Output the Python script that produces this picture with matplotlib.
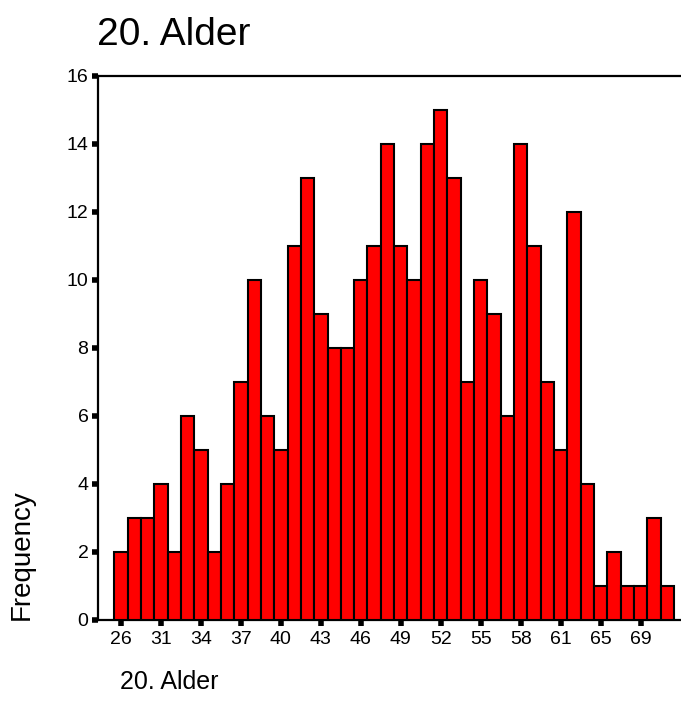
import matplotlib
matplotlib.use("Agg")
import matplotlib.pyplot as plt
import numpy as np

plt.rcParams['font.family'] = ['Liberation Sans', 'DejaVu Sans']

ages = [26, 28, 30, 31, 32, 33, 34, 35, 36, 37, 38, 39, 40, 41, 42, 43, 44, 45,
        46, 47, 48, 49, 50, 51, 52, 53, 54, 55, 56, 57, 58, 59, 60, 61, 62, 63,
        65, 67, 68, 69, 70, 71]
frequency = [2, 3, 3, 4, 2, 6, 5, 2, 4, 7, 10, 6, 5, 11, 13, 9, 8, 8,
             10, 11, 14, 11, 10, 14, 15, 13, 7, 10, 9, 6, 14, 11, 7, 5, 12, 4,
             1, 2, 1, 1, 3, 1]
title = "20. Alder"
ylabel = "Frequency"
yticks = [0, 2, 4, 6, 8, 10, 12, 14, 16]

W, H = 681, 722
fig = plt.figure(figsize=(W / 100, H / 100), dpi=100)
ax = fig.add_axes([97.5 / W, (H - 620) / H, (680 - 97.5) / W, (620 - 76) / H])

x = np.arange(len(ages))
ax.bar(x, frequency, width=1.0, color='#FF0000', edgecolor='black', linewidth=1.5, zorder=3)

ax.set_xlim(-1.76, 41.95)
ax.set_ylim(0, 16)
ax.set_yticks(yticks)
ax.set_yticklabels([str(v) for v in yticks])
shown = x[::3]
ax.set_xticks(shown)
ax.set_xticklabels([str(ages[i]) for i in shown])

ax.tick_params(axis='both', direction='out', length=4, width=4, color='black',
               labelsize=14, pad=2.5)
ax.tick_params(axis='x', pad=4)

for s in ['left', 'bottom', 'top']:
    ax.spines[s].set_linewidth(1.6)
    ax.spines[s].set_color('black')
ax.spines['right'].set_visible(False)

fig.text(97 / W, 1 - 35 / H, title, fontsize=28, ha='left', va='center')
fig.text(22 / W, 1 - 620 / H, ylabel, fontsize=20, rotation=90, ha='center', va='bottom')
fig.text(120 / W, 1 - 682 / H, title, fontsize=18, ha='left', va='center')

fig.savefig("out.png", dpi=100)
